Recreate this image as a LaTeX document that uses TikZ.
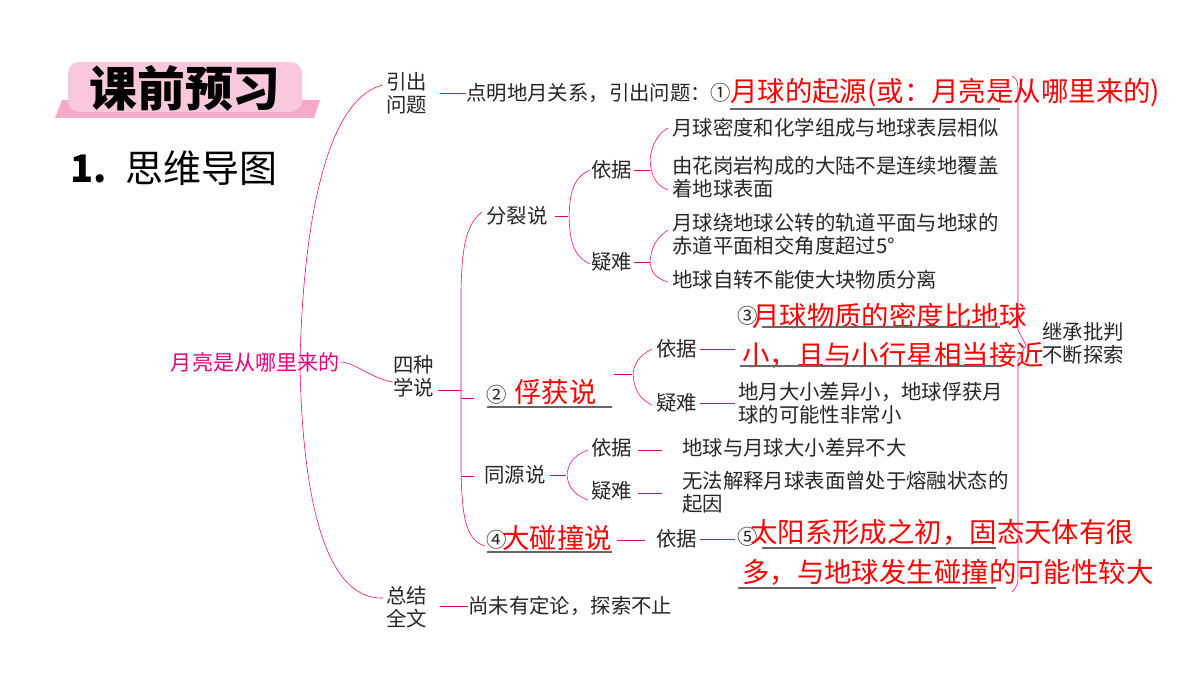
\documentclass[tikz,border=0pt]{standalone}
\usepackage{fontspec}
\setmainfont{Noto Sans CJK SC}
\usepackage{tikz}
\usetikzlibrary{positioning}
\definecolor{mag}{RGB}{230,0,126}
\definecolor{bannerpink}{RGB}{245,170,200}
\definecolor{bannerlight}{RGB}{250,200,220}

\begin{document}
\begin{tikzpicture}[
	x=0.025cm, y=-0.025cm,
	txt/.style={anchor=west, inner sep=0pt, align=left, font=\fontsize{14.5}{16.5}\selectfont, text=black!85},
	ans/.style={anchor=west, inner sep=0pt, font=\fontsize{19.5}{22}\selectfont, text=red},
	branch/.style={mag, thin},
	uline/.style={black!60, thick}
	]
	\useasboundingbox (0,0) rectangle (1200,675);

	% Banner
	\fill[bannerpink] (62,100) -- (320,100) -- (314,118) -- (55,118) -- cycle;
	\fill[bannerlight, rounded corners=8pt] (68,62) rectangle (302,112);
	\node[font=\fontsize{34}{36}\selectfont\bfseries] (banner) at (185,88) {课前预习};
	\node[anchor=west, inner sep=0pt, font=\fontsize{27}{30}\selectfont] (title) at (70,168) {\textbf{1.}\enspace 思维导图};

	% Root
	\node[anchor=east, inner sep=0pt, text=mag, font=\fontsize{15}{17}\selectfont] (root) at (340,362) {月亮是从哪里来的};

	% Level 1
	\node[txt] (yinchu) at (386,93) {引出\\问题};
	\node[txt] (sizhong) at (393,376) {四种\\学说};
	\node[txt] (zongjie) at (386,607) {总结\\全文};
	\draw[branch] (383,85) .. controls (320,100) and (302,250) .. (300,365) .. controls (302,480) and (320,600) .. (383,598);
	\draw[branch] (root.east) .. controls (355,362) and (370,378) .. (393,382);

	% Introduction
	\node[txt] (intro) at (466,93) {点明地月关系，引出问题：①};
	\draw[branch] (440,93) -- (intro.west);
	\node[ans] (ans1) at (730,93) {月球的起源(或：月亮是从哪里来的)};
	\draw[uline] (730,109) -- (1000,109);

	% Four theories bracket
	\draw[branch] (482,212) .. controls (465,225) and (462,250) .. (461,290) -- (461,470) .. controls (462,515) and (465,540) .. (485,546);
	\draw[branch] (438,390) -- (461,390);

	% Fission
	\node[txt] (fenlie) at (486,216) {分裂说};
	\draw[branch] (555,216) -- (568,216);
	\draw[branch] (590,170) .. controls (572,178) and (570,195) .. (569,216) .. controls (570,240) and (572,255) .. (590,264);
	\node[txt] (fl_yj) at (591,170) {依据};
	\node[txt] (fl_yn) at (591,262) {疑难};
	\draw[branch] (634,170) -- (650,170);
	\draw[branch] (634,262) -- (650,262);
	\draw[branch] (668,128) .. controls (655,135) and (651,150) .. (650,160) .. controls (651,175) and (655,185) .. (668,190);
	\draw[branch] (668,230) .. controls (655,238) and (651,250) .. (650,262) .. controls (651,272) and (655,278) .. (668,282);
	\node[txt] (fl_a) at (672,128) {月球密度和化学组成与地球表层相似};
	\node[txt] (fl_b) at (672,177) {由花岗岩构成的大陆不是连续地覆盖\\着地球表面};
	\node[txt] (fl_c) at (672,234) {月球绕地球公转的轨道平面与地球的\\赤道平面相交角度超过5°};
	\node[txt] (fl_d) at (672,280) {地球自转不能使大块物质分离};

	% Capture
	\draw[branch] (461,398) -- (474,398);
	\node[txt] (num2) at (486,395) {②};
	\node[ans] (ans2) at (514,392) {俘获说};
	\draw[uline] (487,407) -- (612,407);
	\draw[branch] (614,374) -- (632,374);
	\draw[branch] (652,349) .. controls (638,356) and (634,365) .. (633,374) .. controls (634,388) and (638,398) .. (652,405);
	\node[txt] (bh_yj) at (656,349) {依据};
	\node[txt] (bh_yn) at (656,403) {疑难};
	\draw[branch] (700,349) -- (735,349);
	\draw[branch] (700,403) -- (735,403);
	\node[txt] (num3) at (737,316) {③};
	\node[ans] (ans3a) at (752,316) {月球物质的密度比地球};
	\draw[uline] (762,327) -- (1000,327);
	\node[ans] (ans3b) at (742,355) {小，且与小行星相当接近};
	\draw[uline] (740,366) -- (1000,366);
	\node[txt] (bh_b) at (738,403) {地月大小差异小，地球俘获月\\球的可能性非常小};

	% Common origin
	\draw[branch] (461,476) -- (474,476);
	\node[txt] (tongyuan) at (484,475) {同源说};
	\draw[branch] (550,475) -- (566,475);
	\draw[branch] (588,450) .. controls (572,456) and (568,465) .. (567,475) .. controls (568,485) and (572,494) .. (588,500);
	\node[txt] (ty_yj) at (591,448) {依据};
	\node[txt] (ty_yn) at (591,491) {疑难};
	\draw[branch] (638,450) -- (662,450);
	\draw[branch] (638,493) -- (662,493);
	\node[txt] (ty_a) at (682,448) {地球与月球大小差异不大};
	\node[txt] (ty_b) at (682,492) {无法解释月球表面曾处于熔融状态的\\起因};

	% Giant impact
	\node[txt] (num4) at (486,540) {④};
	\node[ans] (ans4) at (502,538) {大碰撞说};
	\draw[uline] (487,552) -- (612,552);
	\draw[branch] (617,540) -- (645,540);
	\node[txt] (pz_yj) at (656,539) {依据};
	\draw[branch] (700,539) -- (735,539);
	\node[txt] (num5) at (737,537) {⑤};
	\node[ans] (ans5a) at (750,532) {太阳系形成之初，固态天体有很};
	\draw[uline] (762,548) -- (996,548);
	\node[ans] (ans5b) at (742,572) {多，与地球发生碰撞的可能性较大};
	\draw[uline] (738,588) -- (996,588);

	% Summary
	\node[txt] (sum) at (468,606) {尚未有定论，探索不止};
	\draw[branch] (440,606) -- (sum.west);

	% Right brace
	\draw[branch] (1012,76) .. controls (1018,80) .. (1018,100) -- (1018,330) -- (1026,345) -- (1018,360) -- (1018,570) .. controls (1018,585) .. (1012,592);
	\node[txt] (jicheng) at (1042,343) {继承批判\\不断探索};
\end{tikzpicture}
\end{document}
